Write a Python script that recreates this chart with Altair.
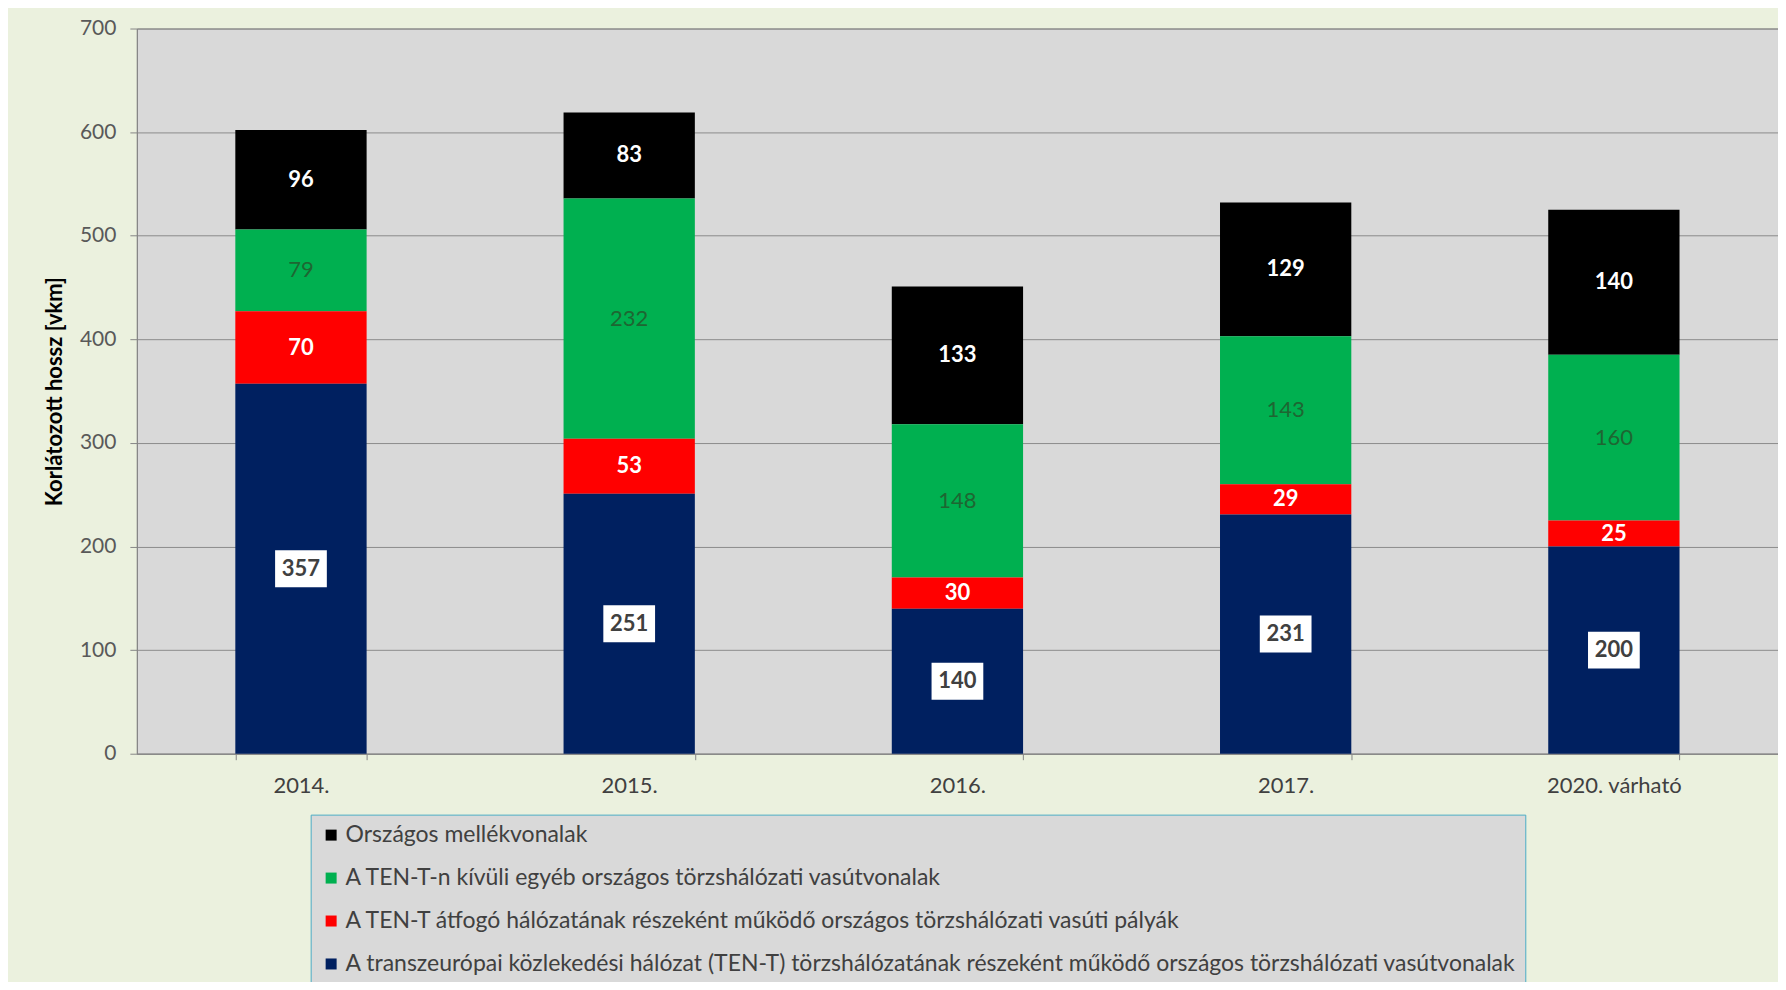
import altair as alt
import pandas as pd

years = ["2014.", "2015.", "2016.", "2017.", "2020. várható"]
series = [
    "Országos mellékvonalak",
    "A TEN-T-n kívüli egyéb országos törzshálózati vasútvonalak",
    "A TEN-T átfogó hálózatának részeként működő országos törzshálózati vasúti pályák",
    "A transzeurópai közlekedési hálózat (TEN-T) törzshálózatának részeként működő országos törzshálózati vasútvonalak",
]
colors = ["#000000", "#00B050", "#FF0000", "#002060"]
stack_order = [3, 2, 1, 0]

black_vals = [96, 83, 133, 129, 140]
green_vals = [79, 232, 148, 143, 160]
red_vals = [70, 53, 30, 29, 25]
navy_vals = [357, 251, 140, 231, 200]
all_vals = [black_vals, green_vals, red_vals, navy_vals]

rows = []
for si, s in enumerate(series):
    for yi, y in enumerate(years):
        rows.append({"year": y, "series": s, "value": all_vals[si][yi],
                     "ord": stack_order[si], "sid": si})
df = pd.DataFrame(rows)

FONT = "Lato"
ytitle = "Korlátozott hossz [vkm]"
yscale = alt.Scale(domain=[0, 700])
xenc = alt.X("year:N", sort=years, title=None,
             scale=alt.Scale(paddingInner=0.6, paddingOuter=0.3))

base = alt.Chart(df)

bars = base.mark_bar().encode(
    x=xenc,
    y=alt.Y("value:Q", stack="zero", scale=yscale, title=ytitle),
    color=alt.Color("series:N", scale=alt.Scale(domain=series, range=colors),
                    legend=alt.Legend(title=None)),
    order=alt.Order("ord:Q", sort="ascending"),
)

stacked = base.transform_stack(
    stack="value", groupby=["year"], sort=[alt.SortField("ord", order="ascending")],
    as_=["y0", "y1"]
).transform_calculate(mid="(datum.y0 + datum.y1) / 2")

def ymid():
    return alt.Y("mid:Q", scale=yscale, title=ytitle)

LBL = 22

box = stacked.transform_filter("datum.sid == 3").mark_point(
    shape="M-1.4,-1H1.4V1H-1.4Z", size=37 * 37, filled=True, fill="white",
    opacity=1, strokeWidth=0
).encode(x=xenc, y=ymid())

txt_navy = stacked.transform_filter("datum.sid == 3").mark_text(
    font=FONT, fontSize=LBL, fontWeight="bold", color="#404040"
).encode(x=xenc, y=ymid(), text="value:Q")

txt_red = stacked.transform_filter("datum.sid == 2").mark_text(
    font=FONT, fontSize=LBL, fontWeight="bold", color="#FFFFFF"
).encode(x=xenc, y=ymid(), text="value:Q")

txt_green = stacked.transform_filter("datum.sid == 1").mark_text(
    font=FONT, fontSize=LBL, color="#1E6632"
).encode(x=xenc, y=ymid(), text="value:Q")

txt_black = stacked.transform_filter("datum.sid == 0").mark_text(
    font=FONT, fontSize=LBL, fontWeight="bold", color="#FFFFFF"
).encode(x=xenc, y=ymid(), text="value:Q")

chart = alt.layer(bars, box, txt_navy, txt_red, txt_green, txt_black).properties(
    width=1643, height=726,
    autosize=alt.AutoSizeParams(type="none"),
    padding={"left": 129, "top": 20, "right": 0, "bottom": 228},
    background="#EBF1DE",
).configure(font=FONT).configure_view(
    fill="#D9D9D9", stroke="#868686", strokeWidth=1
).configure_axisY(
    grid=True, gridColor="#8C8C8C", gridWidth=1, tickCount=7,
    domainColor="#868686", tickColor="#868686", tickSize=7,
    labelColor="#595959", labelFontSize=21, labelPadding=14,
    titleFontSize=22, titleFontWeight="bold", titleColor="#000000",
    titleAngle=270, titleX=-82, titleY=363, titleAlign="center",
    titleBaseline="middle",
).configure_axisX(
    grid=False, domainColor="#868686", tickColor="#868686", tickSize=6,
    tickBand="extent", labelAngle=0, labelColor="#404040",
    labelFontSize=22, labelPadding=16,
).configure_legend(
    orient="none", legendX=174, legendY=787,
    fillColor="#D9D9D9", strokeColor="#4BACC6", padding=9,
    symbolType="square", symbolSize=121, symbolStrokeWidth=0,
    symbolOpacity=1, labelFontSize=23, labelColor="#404040",
    labelOffset=3, rowPadding=19, labelLimit=1400, direction="vertical",
)

chart.save("out.html", embed_options={"renderer": "svg", "actions": False})
